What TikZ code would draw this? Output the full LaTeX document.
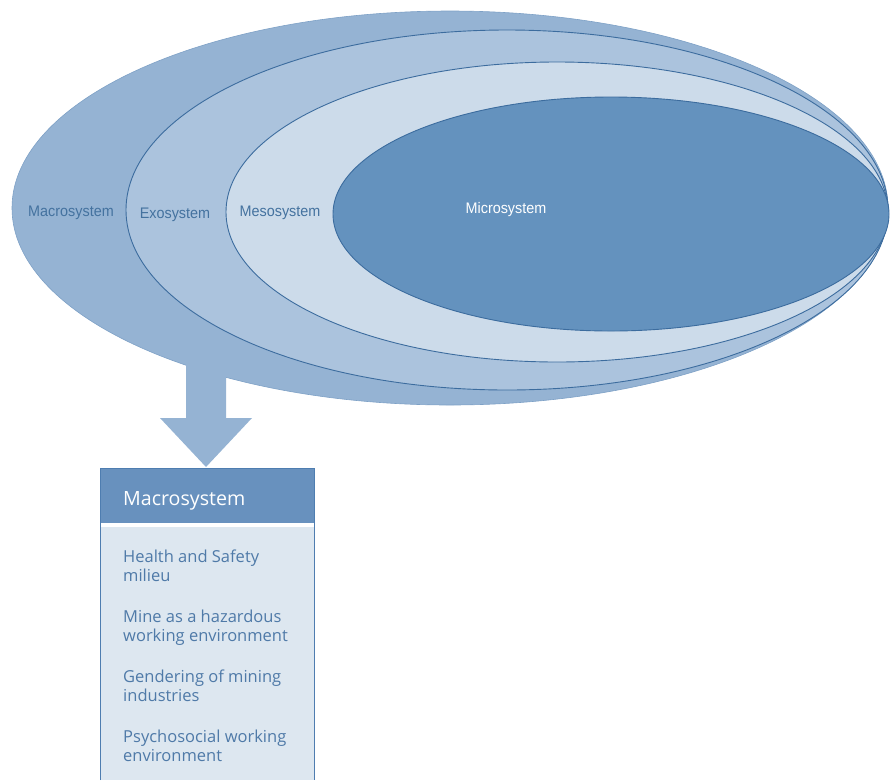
\documentclass[tikz,border=0pt]{standalone}
\usepackage{fontspec}
\setmainfont{Open Sans}
\newfontfamily\narrowsans[FakeStretch=0.94]{Liberation Sans}
\definecolor{macrofill}{HTML}{95B3D3}
\definecolor{exofill}{HTML}{ABC3DD}
\definecolor{mesofill}{HTML}{CCDBEA}
\definecolor{microfill}{HTML}{6492BE}
\definecolor{ringline}{HTML}{3C6C9E}
\definecolor{outerline}{HTML}{7EA1C6}
\definecolor{labeltext}{HTML}{44729F}
\definecolor{headfill}{HTML}{6891BE}
\definecolor{bodyfill}{HTML}{DDE7F0}
\definecolor{boxline}{HTML}{4E7DB0}
\definecolor{bodytext}{HTML}{4F7AA8}
\tikzset{
  ring/.style={draw=ringline, line width=0.9pt},
  ringlabel/.style={font=\narrowsans\fontsize{15.3}{18}\selectfont, text=labeltext, anchor=base, inner sep=0pt},
  itemtext/.style={font=\fontsize{16.5}{19.5}\selectfont, text=bodytext, anchor=base west, inner sep=0pt},
}
\begin{document}
\begin{tikzpicture}[x=1pt, y=-1pt]
\useasboundingbox (0,0) rectangle (890,780);

% outermost ring: macrosystem
\fill[macrofill] (450,208) ellipse [x radius=438, y radius=197];
\draw[outerline, line width=0.6pt] (450,208) ellipse [x radius=438, y radius=197];

% block arrow leaving the macrosystem ring
\fill[macrofill] (186,360) -- (226,360) -- (226,418) -- (252,418) -- (206,467)
  -- (160,418) -- (186,418) -- cycle;

% nested rings
\filldraw[ring, fill=exofill]   (507,210) ellipse [x radius=381, y radius=180];
\filldraw[ring, fill=mesofill]  (557,212) ellipse [x radius=331, y radius=150];
\filldraw[ring, fill=microfill] (611,214) ellipse [x radius=278, y radius=117];

\node[ringlabel] (lmacro) at (71,216) {Macrosystem};
\node[ringlabel] (lexo)   at (175,218) {Exosystem};
\node[ringlabel] (lmeso)  at (280,216) {Mesosystem};
\node[ringlabel, text=white] (lmicro) at (506,213) {Microsystem};

% detail box for the macrosystem
\fill[bodyfill] (100,527) rectangle (314,780);
\fill[headfill] (100,468) rectangle (314,523);
\fill[white] (100,523) rectangle (314,527);
\draw[boxline, line width=0.9pt] (100,780) -- (100,468) -- (314,468) -- (314,780);

\node[anchor=base west, inner sep=0pt, text=white, font=\fontsize{19.6}{23}\selectfont]
  (head) at (123,505) {Macrosystem};

\node[itemtext] (i1a) at (123,562) {Health and Safety};
\node[itemtext] (i1b) at (123,581) {milieu};
\node[itemtext] (i2a) at (123,622) {Mine as a hazardous};
\node[itemtext] (i2b) at (123,641) {working environment};
\node[itemtext] (i3a) at (123,682) {Gendering of mining};
\node[itemtext] (i3b) at (123,701) {industries};
\node[itemtext] (i4a) at (123,742) {Psychosocial working};
\node[itemtext] (i4b) at (123,761) {environment};
\end{tikzpicture}
\end{document}
